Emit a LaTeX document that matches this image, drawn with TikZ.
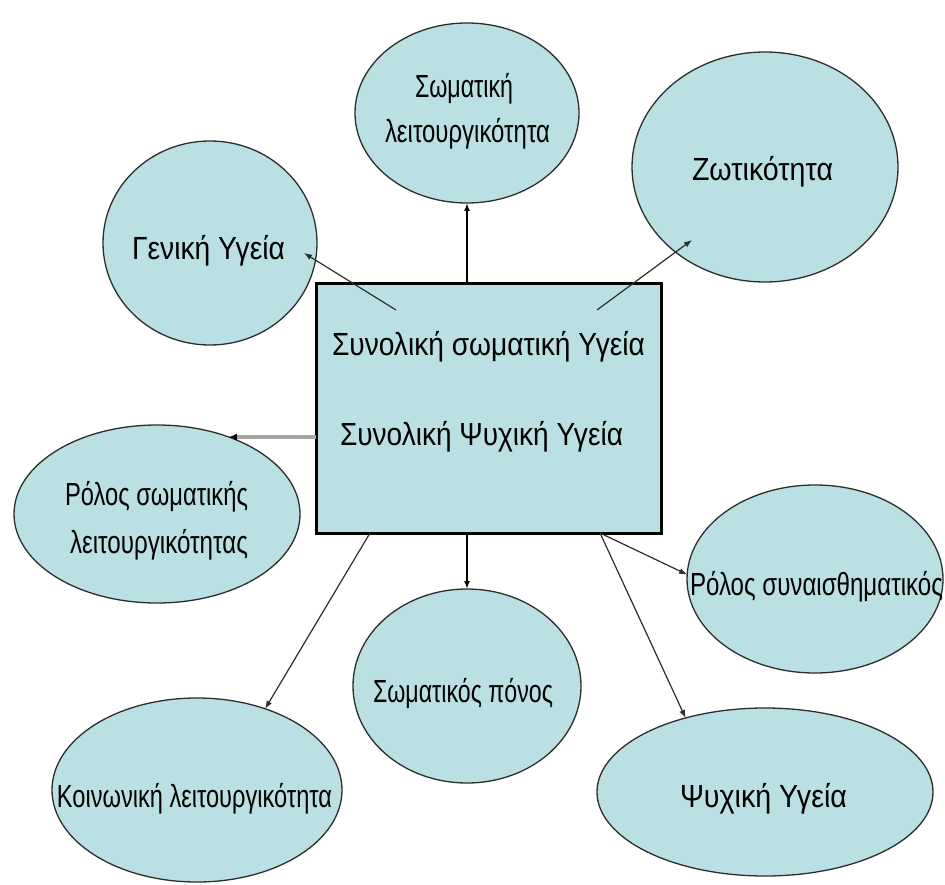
\documentclass[tikz,border=0pt]{standalone}
\usepackage{fontspec}
\setmainfont{Liberation Sans}
\usepackage{graphicx}
\usetikzlibrary{shapes.geometric,arrows.meta,calc}
\definecolor{fillc}{RGB}{187,224,227}
\definecolor{linec}{RGB}{45,45,45}
\definecolor{grayc}{RGB}{166,166,166}
\newcommand{\fitw}[2]{\resizebox{#1pt}{\height}{#2}}
\begin{document}
\begin{tikzpicture}[x=1pt,y=-1pt,
  bub/.style={ellipse,draw=linec,fill=fillc,line width=1.3pt,inner sep=0pt,outer sep=0pt},
  box/.style={rectangle,draw=black,fill=fillc,line width=3pt,inner sep=0pt,outer sep=0pt},
  lbl/.style={inner sep=0pt,anchor=base,font=\fontsize{32}{38}\selectfont},
  conn/.style={draw=linec,line width=1.2pt,-{Latex[length=8pt,width=6pt]}},
  vconn/.style={draw=black,line width=2pt,-{Latex[length=8pt,width=6pt]}},
  gconn/.style={draw=grayc,line width=4.5pt,-{Latex[black,length=8pt,width=7pt]}}]
\useasboundingbox (0,0) rectangle (945,885);
\fill[white] (0,0) rectangle (945,885);

% central box
\node[box,minimum width=345pt,minimum height=249pt] (R) at (488.5,408.5) {};
\node[lbl] (t1) at (488.5,355) {\fitw{313}{Συνολική σωματική Υγεία}};
\node[lbl] (t2) at (481.5,445) {\fitw{283}{Συνολική Ψυχική Υγεία}};

% bubbles
\node[bub,minimum width=224pt,minimum height=180pt] (SL) at (467,113) {};
\node[lbl] (SLa) at (464,98) {\fitw{98}{Σωματική}};
\node[lbl] (SLb) at (467.5,143) {\fitw{165}{λειτουργικότητα}};

\node[bub,minimum width=266pt,minimum height=230pt] (Z) at (765,167) {};
\node[lbl] (Zt) at (762.5,181) {\fitw{141}{Ζωτικότητα}};

\node[bub,minimum width=214pt,minimum height=204pt] (G) at (210,243) {};
\node[lbl] (Gt) at (208.5,260) {\fitw{153}{Γενική Υγεία}};

\node[bub,minimum width=286pt,minimum height=178pt] (RS) at (157,514) {};
\node[lbl] (RSa) at (156.5,505) {\fitw{183}{Ρόλος σωματικής}};
\node[lbl] (RSb) at (159,553) {\fitw{178}{λειτουργικότητας}};

\node[bub,minimum width=256pt,minimum height=188pt] (RSy) at (815,579) {};
\node[lbl] (RSyt) at (816.5,595) {\fitw{253}{Ρόλος συναισθηματικός}};

\node[bub,minimum width=228pt,minimum height=194pt] (SP) at (467,686) {};
\node[lbl] (SPt) at (463,702) {\fitw{180}{Σωματικός πόνος}};

\node[bub,minimum width=336pt,minimum height=168pt] (Ps) at (765,792) {};
\node[lbl] (Pst) at (763.5,807) {\fitw{167}{Ψυχική Υγεία}};

\node[bub,minimum width=290pt,minimum height=184pt] (Ko) at (197,790) {};
\node[lbl] (Kot) at (194.5,807) {\fitw{275}{Κοινωνική λειτουργικότητα}};

% connectors
\coordinate (sG) at (396,310);
\coordinate (sZ) at (597,310);
\coordinate (sK) at (370,533);
\coordinate (sR) at (600,533);

\draw[vconn] (SL.south |- R.north) -- (SL.south);
\draw[vconn] (SP.north |- R.south) -- (SP.north);
\draw[conn] (sG) -- ($(G.center)+(94,10)$);
\draw[conn] (sZ) -- ($(Z.center)+(-73,73)$);
\draw[gconn] (R.west |- RS.47) -- (RS.47);
\draw[conn] (sK) -- (Ko.50);
\draw[conn] (sR) -- (RSy.178);
\draw[conn] (sR) -- (Ps.137);
\end{tikzpicture}
\end{document}
